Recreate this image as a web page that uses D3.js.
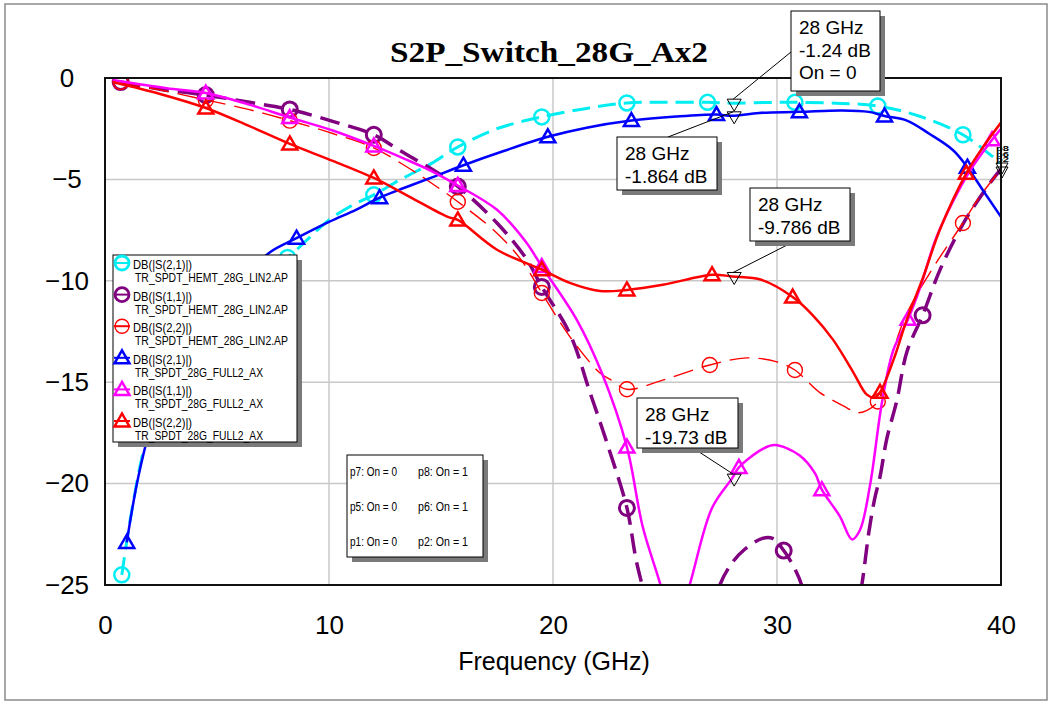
<!DOCTYPE html>
<html><head><meta charset="utf-8">
<script src="https://cdn.jsdelivr.net/npm/d3@7"></script>
<style>body{margin:0;background:#fff}svg{display:block}</style>
</head><body>
<svg id="chart" width="1053" height="705"></svg>
<script>
// ---- data: [frequency GHz, dB] ----
const chartTitle = "S2P_Switch_28G_Ax2";
const xAxisTitle = "Frequency (GHz)";
const freqTicks = [0, 10, 20, 30, 40];
const dbTicks = [0, -5, -10, -15, -20, -25];

const s21Hemt = [[0.75,-24.5],[1.2,-21.3],[1.8,-18.0],[2.5,-15.6],[3.5,-13.4],[4.5,-11.8],[5.5,-10.6],[6.5,-9.75],[7.4,-9.25],[8.15,-8.85],[9.0,-8.0],[10.0,-7.0],[11.0,-6.3],[12.0,-5.76],[13.2,-5.0],[14.6,-4.2],[15.75,-3.4],[17.5,-2.5],[19.5,-1.92],[21.5,-1.5],[23.3,-1.23],[25.0,-1.2],[26.9,-1.2],[28.0,-1.24],[29.5,-1.21],[30.8,-1.2],[32.6,-1.24],[34.5,-1.38],[36.4,-1.9],[38.3,-2.8],[39.6,-3.85],[40,-4.2]];
const s11Hemt = [[0.7,-0.2],[2.45,-0.55],[4.5,-0.84],[6.45,-1.2],[8.25,-1.55],[10.2,-2.15],[12.0,-2.8],[13.2,-3.6],[14.6,-4.5],[15.75,-5.35],[17.5,-7.15],[18.8,-8.9],[19.5,-10.3],[20.75,-12.6],[21.65,-15.5],[22.5,-18.3],[23.3,-21.2],[23.7,-23.7],[24.1,-25.6],[24.6,-28.5],[25.8,-32],[26.8,-28],[27.45,-25],[28.0,-23.9],[28.55,-23.25],[29.35,-22.7],[29.8,-22.7],[30.3,-23.3],[30.7,-24.0],[31.1,-25],[31.6,-27.5],[32.5,-31],[33.3,-28],[33.8,-24.9],[34.1,-22.4],[34.35,-20.8],[34.6,-19.65],[34.9,-17.8],[35.35,-15.9],[35.8,-13.5],[36.5,-11.7],[37.3,-9.4],[38.3,-7.2],[38.9,-6.15],[39.7,-4.9],[40,-4.5]];
const s22Hemt = [[0.7,-0.2],[2.5,-0.6],[4.5,-1.08],[6.4,-1.55],[8.25,-2.1],[10.2,-2.75],[12.0,-3.45],[13.5,-4.4],[14.6,-5.2],[15.75,-6.1],[17.5,-7.65],[18.6,-9.0],[19.5,-10.6],[20.75,-12.75],[22.1,-14.55],[22.6,-14.9],[23.3,-15.35],[24.9,-14.9],[27.0,-14.15],[28.65,-13.8],[30.0,-14.0],[30.8,-14.4],[31.9,-15.5],[33.1,-16.25],[33.55,-16.5],[34.0,-16.4],[34.5,-15.95],[35.2,-13.4],[35.8,-11.6],[37.0,-9.3],[38.3,-7.15],[39.05,-5.85],[40,-4.5]];
const s21Full = [[0.97,-22.9],[1.5,-19.6],[2.2,-16.6],[3.0,-14.4],[3.8,-12.9],[4.7,-11.6],[5.6,-10.5],[6.5,-9.5],[7.35,-8.6],[8.55,-7.9],[10.0,-7.1],[11.2,-6.5],[12.26,-5.9],[13.4,-5.4],[14.6,-4.9],[16.0,-4.3],[17.8,-3.6],[19.77,-2.9],[21.5,-2.45],[23.5,-2.1],[25.5,-1.9],[27.3,-1.8],[28.0,-1.864],[29.2,-1.72],[31.0,-1.67],[32.9,-1.6],[34.1,-1.67],[34.8,-1.87],[35.8,-2.1],[36.8,-2.75],[37.85,-3.55],[38.5,-4.4],[39.2,-5.55],[40,-6.85]];
const s11Full = [[0.35,-0.1],[2.75,-0.5],[4.5,-0.74],[6.4,-1.3],[8.25,-1.95],[10.2,-2.6],[12.0,-3.35],[13.4,-4.0],[14.6,-4.6],[15.75,-5.3],[17.5,-6.5],[18.8,-8.1],[19.5,-9.3],[21.05,-11.9],[22.2,-14.6],[23.3,-18.2],[24.0,-22.1],[24.8,-25.0],[25.4,-27.5],[26.1,-25],[27.1,-21.2],[28.0,-19.73],[28.3,-19.2],[29.35,-18.3],[29.9,-18.1],[31.0,-18.6],[31.7,-19.5],[32.0,-20.3],[32.8,-21.6],[33.35,-22.75],[33.7,-22.3],[34.15,-20.1],[34.7,-15.9],[35.2,-13.4],[35.85,-11.9],[36.4,-10.3],[37.1,-7.9],[37.85,-6.1],[38.6,-4.6],[39.6,-3.05],[40,-2.5]];
const s22Full = [[0.35,-0.2],[2.5,-0.8],[4.5,-1.48],[6.4,-2.35],[8.25,-3.25],[10.2,-4.1],[12.0,-4.93],[13.6,-5.86],[15.3,-6.85],[15.75,-7.0],[17.5,-8.47],[19.5,-9.45],[20.75,-10.1],[22.1,-10.5],[23.3,-10.45],[24.9,-10.2],[27.1,-9.7],[28.0,-9.786],[29.3,-9.95],[30.7,-10.8],[31.6,-11.7],[32.5,-12.9],[33.4,-14.5],[34.0,-15.6],[34.35,-15.75],[34.6,-15.5],[35.2,-13.9],[35.8,-11.9],[36.5,-9.9],[37.3,-7.4],[38.45,-4.7],[39.2,-3.4],[40,-2.2]];

// frequencies that carry a trace symbol
const s21HemtSym = [0.75,4.5,8.15,12.0,15.75,19.5,23.3,26.9,30.8,34.5,38.3];
const s11HemtSym = [0.7,4.5,8.25,12.0,15.75,19.5,23.3,30.3,36.5];
const s22HemtSym = [0.7,4.5,8.25,12.0,15.75,19.5,23.3,27.0,30.8,34.5,38.3];
const s21FullSym = [0.97,4.7,8.55,12.26,16.0,19.77,23.5,27.3,31.0,34.8,38.5];
const s11FullSym = [4.5,8.25,12.0,15.75,19.5,23.3,28.3,32.0,35.85,39.6];
const s22FullSym = [4.5,8.25,12.0,15.75,19.5,23.3,27.1,30.7,34.6,38.45];

const legendNames = ["DB(|S(2,1)|)","DB(|S(1,1)|)","DB(|S(2,2)|)","DB(|S(2,1)|)","DB(|S(1,1)|)","DB(|S(2,2)|)"];
const legendSources = ["TR_SPDT_HEMT_28G_LIN2.AP","TR_SPDT_HEMT_28G_LIN2.AP","TR_SPDT_HEMT_28G_LIN2.AP","TR_SPDT_28G_FULL2_AX","TR_SPDT_28G_FULL2_AX","TR_SPDT_28G_FULL2_AX"];
const stateLeft = ["p7: On = 0","p5: On = 0","p1: On = 0"];
const stateRight = ["p8: On = 1","p6: On = 1","p2: On = 1"];
const endTags = ["p8","p6","p2"];
const readoutFreq = 28;
const readoutValues = [-1.24, -1.864, -9.786, -19.73];

// ---- styling of each trace ----
const traces = [
  {data:s21Hemt, sym:s21HemtSym, color:"#00eef2", width:3,   dash:"18,8", shape:"circle", sw:2.5},
  {data:s11Hemt, sym:s11HemtSym, color:"#800080", width:3.5, dash:"20,9", shape:"circle", sw:3},
  {data:s22Hemt, sym:s22HemtSym, color:"#ff0000", width:1.4, dash:"20,9", shape:"circle", sw:1.4},
  {data:s21Full, sym:s21FullSym, color:"#0000ff", width:2.5, dash:null,   shape:"tri",    sw:2.5},
  {data:s11Full, sym:s11FullSym, color:"#ff00ff", width:2.5, dash:null,   shape:"tri",    sw:2.5},
  {data:s22Full, sym:s22FullSym, color:"#ff0000", width:2.5, dash:null,   shape:"tri",    sw:2.5}
];

const svg = d3.select("#chart");
const P = {l:105, r:1001, t:78, b:585};
const x = d3.scaleLinear().domain([0,40]).range([P.l,P.r]);
const y = d3.scaleLinear().domain([-25,0]).range([P.b,P.t]);
const sans = "Liberation Sans, Arial, sans-serif";

// outer frame
svg.append("rect").attr("x",5).attr("y",4).attr("width",1042).attr("height",696)
  .attr("fill","#fff").attr("stroke","#8a8a8a").attr("stroke-width",1.5);

// title
svg.append("text").attr("x",549).attr("y",62).attr("text-anchor","middle")
  .attr("font-family","Liberation Serif, Times New Roman, serif").attr("font-weight","bold")
  .attr("font-size",30).attr("textLength",318).attr("lengthAdjust","spacingAndGlyphs")
  .text(chartTitle);

// grid
const grid = svg.append("g").attr("stroke","#c8c8c8").attr("stroke-width",1.5);
freqTicks.slice(1,-1).forEach(f=>grid.append("line").attr("x1",x(f)).attr("x2",x(f)).attr("y1",P.t).attr("y2",P.b));
dbTicks.slice(1,-1).forEach(v=>grid.append("line").attr("x1",P.l).attr("x2",P.r).attr("y1",y(v)).attr("y2",y(v)));

// axes
const xa = svg.append("g").attr("transform",`translate(0,${P.b})`)
  .call(d3.axisBottom(x).tickValues(freqTicks).tickSize(0).tickPadding(31).tickFormat(d3.format("d")));
xa.select(".domain").remove();
xa.selectAll("text").attr("font-family",sans).attr("font-size",26).attr("fill","#000");
const ya = svg.append("g").attr("transform",`translate(${P.l},0)`)
  .call(d3.axisLeft(y).tickValues(dbTicks).tickSize(0).tickFormat(d3.format("d")));
ya.select(".domain").remove();
ya.selectAll("text").attr("font-family",sans).attr("font-size",26).attr("fill","#000")
  .attr("text-anchor","middle").attr("x",-38);
svg.append("text").attr("x",554).attr("y",670).attr("text-anchor","middle")
  .attr("font-family",sans).attr("font-size",25).text(xAxisTitle);

// traces
svg.append("clipPath").attr("id","plotclip").append("rect")
  .attr("x",P.l).attr("y",P.t).attr("width",P.r-P.l).attr("height",P.b-P.t);
const plot = svg.append("g").attr("clip-path","url(#plotclip)");
const line = d3.line().x(d=>x(d[0])).y(d=>y(d[1])).curve(d3.curveCatmullRom.alpha(0.5));
const triPath = "M0,-7.5L7.5,5.5L-7.5,5.5Z";
traces.forEach(t=>{
  plot.append("path").attr("d",line(t.data)).attr("fill","none")
    .attr("stroke",t.color).attr("stroke-width",t.width)
    .attr("stroke-dasharray",t.dash).attr("stroke-linejoin","round");
  const pts = t.sym.map(f=>t.data.find(p=>Math.abs(p[0]-f)<1e-6)).filter(Boolean);
  pts.forEach(p=>{
    if (t.shape==="circle") {
      plot.append("circle").attr("cx",x(p[0])).attr("cy",y(p[1])).attr("r",7.5)
        .attr("fill","none").attr("stroke",t.color).attr("stroke-width",t.sw);
    } else {
      plot.append("path").attr("d",triPath).attr("transform",`translate(${x(p[0])},${y(p[1])})`)
        .attr("fill","none").attr("stroke",t.color).attr("stroke-width",t.sw);
    }
  });
});

// plot border
svg.append("rect").attr("x",P.l).attr("y",P.t).attr("width",P.r-P.l).attr("height",P.b-P.t)
  .attr("fill","none").attr("stroke","#111").attr("stroke-width",2);

// trace end tags at the right edge
const tags = svg.append("g").attr("font-family",sans).attr("font-size",6.5).attr("font-weight","bold");
endTags.forEach((s,i)=>tags.append("text").attr("x",996).attr("y",151+i*5.5)
  .attr("textLength",13).attr("lengthAdjust","spacingAndGlyphs").text(s));
[0,4].forEach(dy=>svg.append("path").attr("d","M-6,-5L6,-5L0,6Z")
  .attr("transform",`translate(1002,${168+dy})`).attr("fill","none").attr("stroke","#000").attr("stroke-width",1));

// boxed label helper with drop shadow
function box(g, bx, by, w, h) {
  g.append("rect").attr("x",bx+5).attr("y",by+5).attr("width",w).attr("height",h).attr("fill","#7a7a7a");
  g.append("rect").attr("x",bx).attr("y",by).attr("width",w).attr("height",h)
    .attr("fill","#fff").attr("stroke","#000").attr("stroke-width",1);
}

// 28 GHz readouts
const readouts = [
  {v:readoutValues[0], bx:791, by:11,  w:89,  h:80, ax:791, ay:52,  extra:"On = 0"},
  {v:readoutValues[1], bx:617, by:137, w:100, h:53, ax:668, ay:137},
  {v:readoutValues[2], bx:750, by:188, w:100, h:53, ax:795, ay:241},
  {v:readoutValues[3], bx:637, by:398, w:101, h:50, ax:693, ay:448}
];
const rg = svg.append("g");
readouts.forEach(r=>{
  const mx = x(readoutFreq), my = y(r.v);
  rg.append("line").attr("x1",r.ax).attr("y1",r.ay).attr("x2",mx+1).attr("y2",my-4)
    .attr("stroke","#000").attr("stroke-width",1);
  rg.append("path").attr("d","M-7,-5L7,-5L0,7Z").attr("transform",`translate(${mx+2},${my+1})`)
    .attr("fill","none").attr("stroke","#000").attr("stroke-width",1);
});
readouts.forEach(r=>{
  box(rg, r.bx, r.by, r.w, r.h);
  const lines = [readoutFreq+" GHz", r.v+" dB"].concat(r.extra?[r.extra]:[]);
  lines.forEach((s,i)=>rg.append("text").attr("x",r.bx+8).attr("y",r.by+23+i*22.5)
    .attr("font-family",sans).attr("font-size",19).text(s));
});

// legend
const lg = svg.append("g");
box(lg, 113, 255, 184, 187);
traces.forEach((t,i)=>{
  const b1 = 269 + i*31.6, cy = b1-6, cx = 122;
  lg.append("line").attr("x1",114).attr("x2",130).attr("y1",cy).attr("y2",cy)
    .attr("stroke",t.color).attr("stroke-width",2);
  if (t.shape==="circle") {
    lg.append("circle").attr("cx",cx).attr("cy",cy).attr("r",7).attr("fill","none")
      .attr("stroke",t.color).attr("stroke-width",i===2?1.4:2.8);
  } else {
    lg.append("path").attr("d",triPath).attr("transform",`translate(${cx},${cy})`)
      .attr("fill","none").attr("stroke",t.color).attr("stroke-width",2.5);
  }
  lg.append("text").attr("x",133).attr("y",b1).attr("font-family",sans).attr("font-size",12)
    .attr("textLength",59).attr("lengthAdjust","spacingAndGlyphs").text(legendNames[i]);
  const src = legendSources[i];
  lg.append("text").attr("x",135).attr("y",b1+13).attr("font-family",sans).attr("font-size",12)
    .attr("textLength",src.length>22?153:128).attr("lengthAdjust","spacingAndGlyphs").text(src);
});

// switch state box
const sg = svg.append("g");
box(sg, 347, 455, 136, 102);
stateLeft.forEach((s,i)=>sg.append("text").attr("x",350).attr("y",476+i*35)
  .attr("font-family",sans).attr("font-size",12.5).attr("textLength",47)
  .attr("lengthAdjust","spacingAndGlyphs").text(s));
stateRight.forEach((s,i)=>sg.append("text").attr("x",418).attr("y",476+i*35)
  .attr("font-family",sans).attr("font-size",12.5).attr("textLength",50)
  .attr("lengthAdjust","spacingAndGlyphs").text(s));
</script>
</body></html>
